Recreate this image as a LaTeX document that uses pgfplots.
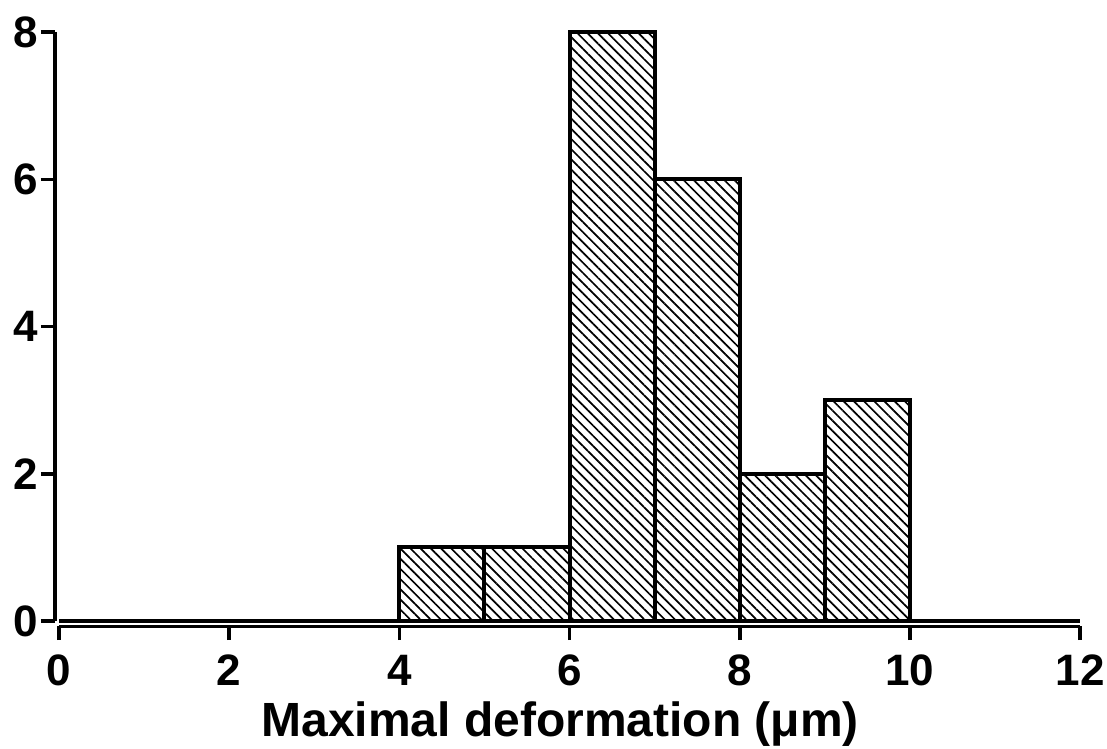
\documentclass[border=0pt]{standalone}
\usepackage{fontspec}
\setmainfont{Liberation Sans}
\usepackage{pgfplots}
\pgfplotsset{compat=1.18}
\usetikzlibrary{patterns.meta}
\begin{document}
\begin{tikzpicture}
\begin{axis}[
  x=42.55pt, y=36.8pt,
  xmin=0, xmax=12, ymin=0, ymax=8,
  axis lines=left,
  axis line style={-, line width=1.6pt},
  axis x line shift=2.6pt,
  axis y line shift=2pt,
  tick align=outside,
  major tick length=7pt,
  every tick/.style={black, line width=1.8pt},
  xtick={0,2,...,12}, ytick={0,2,...,8},
  minor tick num=0,
  tick label style={font=\bfseries\fontsize{22}{26}\selectfont},
  xticklabel style={yshift=-4pt},
  yticklabel style={xshift=2pt},
  /pgf/number format/assume math mode=true,
  clip=false,
]
\addplot[ybar interval, draw=black, line width=2pt,
  pattern={Lines[angle=-45, distance=3.6pt, line width=0.85pt]}, pattern color=black]
  coordinates {(4,1) (5,1) (6,8) (7,6) (8,2) (9,3) (10,3)};
\addplot[black, line width=1.6pt, forget plot] coordinates {(0,0) (12,0)};
\node[anchor=base, font=\bfseries\fontsize{24}{28}\selectfont] at (axis cs:5.89,-1.576) {Maximal deformation (μm)};
\coordinate (bbl) at (axis cs:-0.693,-1.739);
\coordinate (btr) at (axis cs:12.315,8.437);
\end{axis}
\pgfresetboundingbox
\path (bbl) rectangle (btr);
\end{tikzpicture}
\end{document}
